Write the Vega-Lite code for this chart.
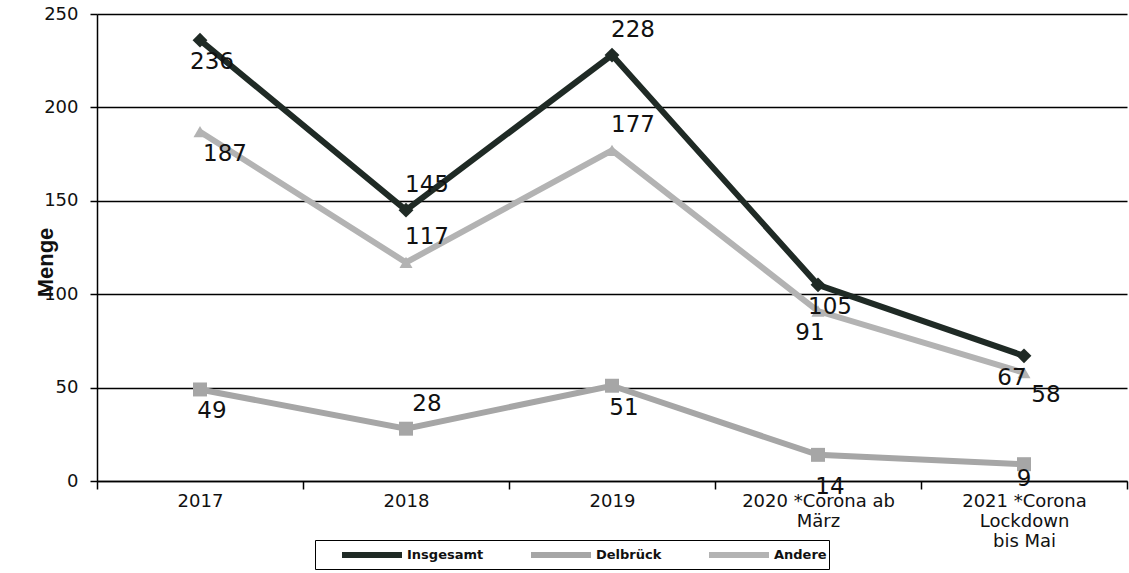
{
  "$schema": "https://vega.github.io/schema/vega-lite/v6.json",
  "width": 1030,
  "height": 467,
  "autosize": {"type": "none"},
  "padding": {"left": 97, "top": 14, "right": 2, "bottom": 92},
  "background": "white",
  "config": {
    "font": "DejaVu Sans",
    "view": {"stroke": null}
  },
  "data": {
    "values": [
      {"year": "2017", "series": "Insgesamt", "value": 236},
      {"year": "2018", "series": "Insgesamt", "value": 145},
      {"year": "2019", "series": "Insgesamt", "value": 228},
      {"year": "2020 *Corona ab März", "series": "Insgesamt", "value": 105},
      {"year": "2021 *Corona Lockdown bis Mai", "series": "Insgesamt", "value": 67},
      {"year": "2017", "series": "Delbrück", "value": 49},
      {"year": "2018", "series": "Delbrück", "value": 28},
      {"year": "2019", "series": "Delbrück", "value": 51},
      {"year": "2020 *Corona ab März", "series": "Delbrück", "value": 14},
      {"year": "2021 *Corona Lockdown bis Mai", "series": "Delbrück", "value": 9},
      {"year": "2017", "series": "Andere", "value": 187},
      {"year": "2018", "series": "Andere", "value": 117},
      {"year": "2019", "series": "Andere", "value": 177},
      {"year": "2020 *Corona ab März", "series": "Andere", "value": 91},
      {"year": "2021 *Corona Lockdown bis Mai", "series": "Andere", "value": 58}
    ]
  },
  "encoding": {
    "x": {
      "field": "year", "type": "nominal", "sort": null,
      "scale": {"type": "band", "paddingInner": 0, "paddingOuter": 0},
      "axis": {
        "title": null, "labelAngle": 0, "tickBand": "extent",
        "domainColor": "black", "domainWidth": 1.5, "tickColor": "black", "tickWidth": 1.5, "tickSize": 8,
        "labelFontSize": 18, "labelColor": "#111", "labelPadding": 3, "labelLineHeight": 20,
        "labelExpr": "datum.label == '2020 *Corona ab März' ? ['2020 *Corona ab', 'März'] : datum.label == '2021 *Corona Lockdown bis Mai' ? ['2021 *Corona', 'Lockdown', 'bis Mai'] : datum.label"
      }
    },
    "y": {
      "field": "value", "type": "quantitative",
      "scale": {"domain": [0, 250]},
      "axis": {
        "title": "Menge", "titleFont": "Liberation Sans", "titleFontSize": 22, "titleFontWeight": "bold", "titleColor": "#111",
        "titleAngle": -90, "titleX": -52, "titleY": 248, "titleAlign": "center", "titleBaseline": "middle",
        "values": [0, 50, 100, 150, 200, 250],
        "grid": true, "gridColor": "black", "gridWidth": 1.5,
        "domainColor": "black", "domainWidth": 1.5, "tickColor": "black", "tickWidth": 1.5, "tickSize": 7,
        "labelFontSize": 18, "labelColor": "#111", "labelPadding": 12
      }
    }
  },
  "resolve": {"legend": {"color": "independent", "shape": "independent", "size": "independent"}},
  "layer": [
    {
      "mark": {"type": "line", "strokeWidth": 6},
      "encoding": {
        "color": {
          "field": "series", "type": "nominal",
          "scale": {"domain": ["Insgesamt", "Delbrück", "Andere"], "range": ["#1f2a25", "#a6a6a6", "#b3b3b3"]},
          "legend": {
            "title": null, "orient": "none", "legendX": 218, "legendY": 526, "direction": "horizontal",
            "columns": 3, "symbolType": "M-1,0H5", "symbolSize": 400, "symbolStrokeWidth": 6,
            "labelFont": "DejaVu Sans", "labelFontSize": 13, "labelFontWeight": "bold", "labelColor": "#111", "labelOffset": 42,
            "columnPadding": 22, "strokeColor": "black", "padding": 2, "symbolOffset": 22
          }
        }
      }
    },
    {
      "mark": {"type": "point", "filled": true, "opacity": 1},
      "encoding": {
        "color": {
          "field": "series", "type": "nominal",
          "scale": {"domain": ["Insgesamt", "Delbrück", "Andere"], "range": ["#1f2a25", "#a6a6a6", "#b3b3b3"]},
          "legend": null
        },
        "shape": {
          "field": "series", "type": "nominal",
          "scale": {"domain": ["Insgesamt", "Delbrück", "Andere"], "range": ["diamond", "square", "triangle-up"]},
          "legend": null
        },
        "size": {
          "field": "series", "type": "nominal",
          "scale": {"domain": ["Insgesamt", "Delbrück", "Andere"], "range": [220, 170, 110]},
          "legend": null
        }
      }
    },
    {
      "transform": [{"filter": "(datum.year == '2018' || datum.year == '2019') && (datum.series != 'Delbrück' || datum.year == '2018')"}],
      "mark": {"type": "text", "fontSize": 23, "color": "#111", "dy": -25, "dx": 21},
      "encoding": {"text": {"field": "value", "type": "quantitative"}}
    },
    {
      "transform": [{"filter": "!((datum.year == '2018' || datum.year == '2019') && (datum.series != 'Delbrück' || datum.year == '2018'))"}],
      "mark": {
        "type": "text", "fontSize": 23, "color": "#111",
        "dy": {"expr": "datum.series == 'Delbrück' && datum.year == '2020 *Corona ab März' ? 32 : datum.series == 'Delbrück' && indexof(datum.year, '2021') == 0 ? 15 : 22"},
        "dx": {"expr": "indexof(datum.year, '2020') == 0 ? (datum.series == 'Andere' ? -8 : 12) : indexof(datum.year, '2021') == 0 ? (datum.series == 'Insgesamt' ? -12 : datum.series == 'Andere' ? 22 : 0) : (datum.series == 'Andere' ? 25 : 12)"}
      },
      "encoding": {"text": {"field": "value", "type": "quantitative"}}
    }
  ]
}
